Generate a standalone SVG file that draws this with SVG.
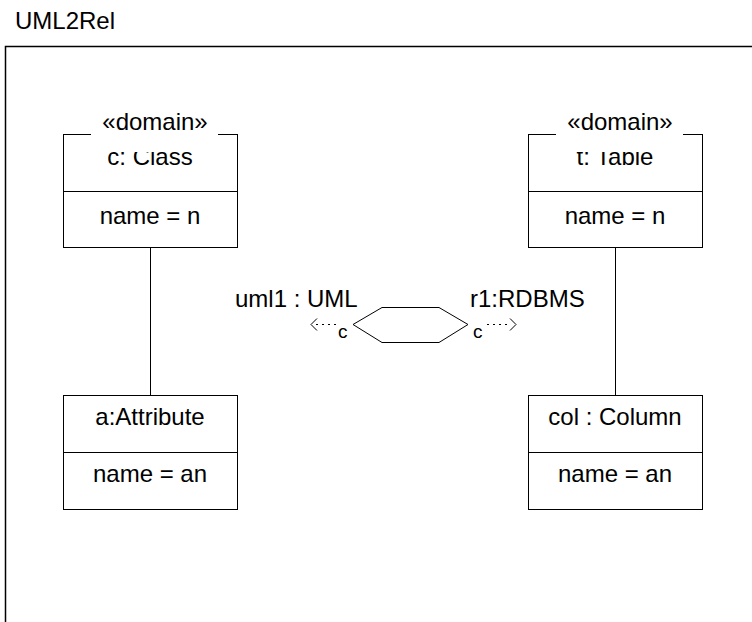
<svg xmlns="http://www.w3.org/2000/svg" width="752" height="622" viewBox="0 0 752 622">
<style>
text{font-family:"Liberation Sans",Arial,sans-serif;font-size:24px;fill:#000}
.c{text-anchor:middle}
.s{font-size:19px}
.box{fill:none;stroke:#000;stroke-width:1}
.ln{fill:none;stroke:#000;stroke-width:1}
.dot{fill:none;stroke:#000;stroke-width:1.2;stroke-dasharray:2 4}
.mask{fill:#fff;stroke:none}
</style>
<rect width="752" height="622" fill="#fff"/>
<text x="15" y="29">UML2Rel</text>
<g id="frame"><rect x="5.5" y="46.5" width="900" height="700" fill="none" stroke="#000" stroke-width="1.5"/></g>
<g id="connectors">
<line class="ln" x1="150.5" y1="247" x2="150.5" y2="395"/>
<line class="ln" x1="615.5" y1="247" x2="615.5" y2="395"/>
<line class="dot" x1="316" y1="324.5" x2="340" y2="324.5"/>
<polyline class="ln" points="317,318.5 311,324.5 317,330.5"/>
<line class="dot" x1="487" y1="324.5" x2="511" y2="324.5"/>
<polyline class="ln" points="510,318.5 516,324.5 510,330.5"/>
</g>
<g id="class">
<rect class="box" x="63.5" y="134.5" width="174" height="113"/>
<line class="ln" x1="63.5" y1="191.5" x2="237.5" y2="191.5"/>
<text class="c" x="150" y="165">c: Class</text>
<rect class="mask" x="91" y="112" width="127" height="40"/>
<text class="c" x="155" y="130">«domain»</text>
<text class="c" x="150" y="224">name = n</text>
</g>
<g id="table">
<rect class="box" x="528.5" y="134.5" width="174" height="113"/>
<line class="ln" x1="528.5" y1="191.5" x2="702.5" y2="191.5"/>
<text class="c" x="615" y="165">t: Table</text>
<rect class="mask" x="556" y="112" width="127" height="40"/>
<text class="c" x="620" y="130">«domain»</text>
<text class="c" x="615" y="224">name = n</text>
</g>
<g id="attribute">
<rect class="box" x="63.5" y="395.5" width="174" height="114"/>
<line class="ln" x1="63.5" y1="452.5" x2="237.5" y2="452.5"/>
<text class="c" x="150" y="425">a:Attribute</text>
<text class="c" x="150" y="482">name = an</text>
</g>
<g id="column">
<rect class="box" x="528.5" y="395.5" width="174" height="114"/>
<line class="ln" x1="528.5" y1="452.5" x2="702.5" y2="452.5"/>
<text class="c" x="615" y="425">col : Column</text>
<text class="c" x="615" y="482">name = an</text>
</g>
<g id="relation">
<polygon class="box" points="353,324.5 382,307.5 439,307.5 468,324.5 439,342.5 382,342.5"/>
<text x="235" y="307">uml1 : UML</text>
<text x="470" y="307">r1:RDBMS</text>
<text x="338" y="338" class="s">c</text>
<text x="473" y="338" class="s">c</text>
</g>
</svg>
